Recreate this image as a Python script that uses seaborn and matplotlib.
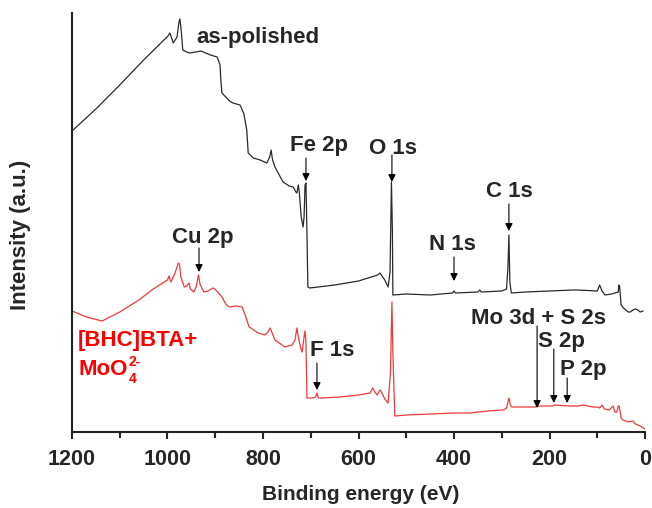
import matplotlib
matplotlib.use('Agg')
import matplotlib.pyplot as plt
import seaborn as sns
from matplotlib.ticker import MultipleLocator

# XPS survey, as-polished sample (binding energy in eV, intensity in a.u.)
polished_ev = [1200, 1150, 1100, 1050, 999, 995, 990, 988, 980, 976, 974, 971, 968, 960, 953,
               930, 910, 896, 890, 888, 886, 870, 863, 848, 840, 834, 831, 820, 806, 792,
               786, 783, 780, 775, 758, 745, 737, 731, 729, 726, 724, 720, 716, 714, 712,
               710, 708, 706, 702, 650, 600, 560, 555, 545, 538, 534, 531, 529, 528, 500,
               450, 403, 400, 397, 350, 346, 343, 300, 290, 287, 285, 283, 280, 250, 200,
               150, 142, 100, 95, 90, 84, 70, 56, 55, 53, 50, 45, 35, 31, 25, 20, 15, 10, 4]
polished_int = [301, 323, 347, 372, 396, 399, 392, 389, 395, 410, 413, 400, 382, 380, 379,
                381, 377, 375, 367, 350, 339, 331, 329, 327, 318, 302, 279, 274, 272, 269,
                275, 282, 272, 265, 250, 246, 245, 240, 239, 247, 240, 215, 205, 215, 247,
                249, 200, 145, 144, 147, 151, 157, 159, 152, 145, 160, 250, 200, 137, 138,
                137, 139, 141, 139, 140, 142, 140, 141, 143, 165, 197, 150, 139, 140, 141,
                142, 142, 141, 147, 141, 137, 138, 140, 147, 145, 127, 124, 120, 120, 122,
                123, 122, 120, 121]

# XPS survey, [BHC]BTA + MoO4(2-) treated sample
treated_ev = [1200, 1170, 1137, 1100, 1060, 1030, 1000, 997, 993, 985, 980, 977, 975, 972,
              965, 960, 955, 952, 945, 940, 935, 932, 924, 915, 905, 901, 895, 886, 878,
              871, 855, 844, 838, 829, 810, 796, 790, 785, 780, 775, 754, 739, 733, 729,
              726, 720, 718, 714, 712, 710, 708, 697, 690, 687, 684, 676, 639, 600, 576,
              570, 566, 561, 555, 553, 545, 538, 533, 530, 528, 524, 500, 450, 400, 366,
              330, 297, 290, 287, 285, 282, 279, 250, 230, 225, 193, 190, 157, 140, 130,
              109, 100, 95, 90, 85, 75, 67, 63, 59, 56, 54, 50, 46, 35, 25, 20, 10, 0]
treated_int = [121, 115, 111, 120, 132, 143, 152, 156, 150, 158, 165, 169, 168, 155,
               145, 146, 149, 143, 140, 145, 157, 148, 140, 141, 144, 143, 140, 135, 128,
               125, 126, 125, 118, 105, 99, 97, 100, 104, 98, 92, 85, 87, 92, 104,
               95, 82, 80, 95, 101, 90, 34, 34, 35, 39, 34, 34, 35, 37, 39,
               44, 40, 37, 42, 41, 33, 29, 60, 130, 80, 16, 17, 18, 19, 19,
               21, 22, 24, 30, 34, 27, 25, 25, 25, 26, 26, 27, 26, 26, 27,
               25, 25, 24, 27, 23, 22, 26, 20, 20, 26, 26, 14, 12, 10, 11, 8, 6, 3]

# peak labels: text, text x, text baseline y, arrow x, arrow tail y, arrow tip y
peak_labels = [
    ('Fe 2p', 683, 281, 710, 274, 251),
    ('O 1s', 528, 278, 530, 277, 250),
    ('C 1s', 283, 235, 285, 228, 201),
    ('N 1s', 404, 182, 400, 175, 151),
    ('Cu 2p', 926, 189, 934, 184, 160),
    ('F 1s', 655, 76, 687, 69, 42),
    ('Mo 3d + S 2s', 224, 108, 226, 106, 24),
    ('S 2p', 176, 85, 191, 83, 29),
    ('P 2p', 130, 57, 163, 54, 29),
]

sns.set_style('ticks')
plt.rcParams['font.family'] = ['Liberation Sans', 'DejaVu Sans']
plt.rcParams['font.weight'] = 'bold'
plt.rcParams['axes.labelweight'] = 'bold'

fig = plt.figure(figsize=(6.52, 5.08), dpi=100)
ax = fig.add_axes([72 / 652, 76 / 508, 573 / 652, 419 / 508])

sns.lineplot(x=polished_ev, y=polished_int, estimator=None, sort=False,
             color='#2a2a2a', lw=0.9, ax=ax)
sns.lineplot(x=treated_ev, y=treated_int, estimator=None, sort=False,
             color='#f03a3a', lw=0.9, ax=ax)

ax.set_xlim(1200, 0)
ax.set_ylim(0, 419)
ax.set_yticks([])
ax.xaxis.set_major_locator(MultipleLocator(200))
ax.xaxis.set_minor_locator(MultipleLocator(100))
ax.tick_params(axis='x', which='major', direction='out', length=5, width=1.5,
               labelsize=15.5, pad=7)
ax.tick_params(axis='x', which='minor', direction='out', length=4, width=1.5)
for lab in ax.get_xticklabels():
    lab.set_fontweight('bold')

sns.despine(ax=ax)
for side in ['left', 'bottom']:
    ax.spines[side].set_linewidth(1.5)
    ax.spines[side].set_color('#222222')

ax.set_xlabel('Binding energy (eV)', fontsize=15)
ax.set_ylabel('Intensity (a.u.)', fontsize=16)
ax.xaxis.set_label_coords(0.503, -0.126)
ax.yaxis.set_label_coords(-0.072, 0.47)

# sample labels
ax.text(940, 389, 'as-polished', fontsize=16, fontweight='bold', ha='left', va='baseline')
ax.text(1187, 86, '[BHC]BTA+', fontsize=16, fontweight='bold', color='red',
        ha='left', va='baseline')
ax.text(1187, 57, 'MoO', fontsize=16, fontweight='bold', color='red',
        ha='left', va='baseline')
ax.text(1081, 66, '2-', fontsize=10, fontweight='bold', color='red',
        ha='left', va='baseline')
ax.text(1081, 49, '4', fontsize=10, fontweight='bold', color='red',
        ha='left', va='baseline')

# peak assignments with arrows
for name, tx, ty, axx, y0, y1 in peak_labels:
    ax.text(tx, ty, name, fontsize=16, fontweight='bold', ha='center', va='baseline')
    ax.annotate('', xy=(axx, y1), xytext=(axx, y0),
                arrowprops=dict(arrowstyle='-|>', color='black', lw=0.8,
                                mutation_scale=11, shrinkA=0, shrinkB=0))

fig.savefig('out.png', dpi=100)
